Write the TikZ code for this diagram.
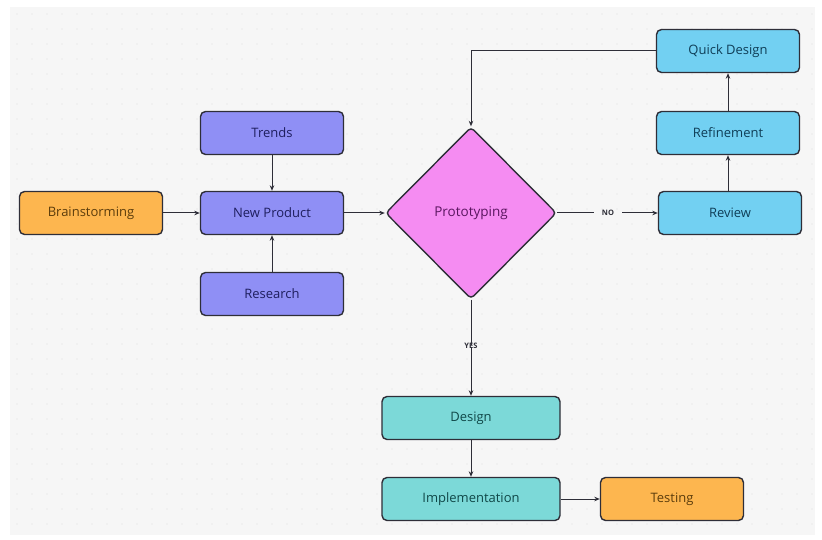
\documentclass[tikz,border=0pt]{standalone}
\usepackage{fontspec}
\setmainfont{Open Sans}
\usetikzlibrary{shapes.geometric,arrows.meta}
\definecolor{canvas}{HTML}{F6F6F6}
\definecolor{dotc}{HTML}{DEDEDE}
\definecolor{edge}{HTML}{2E2E38}
\definecolor{orangef}{HTML}{FDB64F}
\definecolor{oranget}{HTML}{5C3D0C}
\definecolor{purplef}{HTML}{8F8FF5}
\definecolor{purplet}{HTML}{1E1E5E}
\definecolor{pinkf}{HTML}{F58CF2}
\definecolor{pinkt}{HTML}{5A1660}
\definecolor{bluef}{HTML}{72D0F2}
\definecolor{bluet}{HTML}{0F3E57}
\definecolor{tealf}{HTML}{7CD9D8}
\definecolor{tealt}{HTML}{104848}
\tikzset{
  box/.style={draw=edge, line width=1.4pt, rounded corners=5pt, minimum width=143pt,
    minimum height=43pt, inner sep=0pt, font=\fontsize{13}{15}\selectfont},
  widebox/.style={box, minimum width=178pt},
  orangebox/.style={box, fill=orangef, text=oranget},
  purplebox/.style={box, fill=purplef, text=purplet},
  bluebox/.style={box, fill=bluef, text=bluet},
  tealbox/.style={widebox, fill=tealf, text=tealt},
  decision/.style={diamond, draw=edge, line width=1.4pt, fill=pinkf, text=pinkt,
    minimum width=171pt, minimum height=172pt, inner sep=0pt, rounded corners=4pt,
    font=\fontsize{13.5}{15}\selectfont},
  conn/.style={draw=edge, line width=1pt, -{Stealth[length=5.5pt,width=4.5pt]}},
  plainconn/.style={draw=edge, line width=1pt},
  tag/.style={font=\bfseries\fontsize{7.5}{9}\selectfont, text=edge, inner sep=2pt}
}
\begin{document}
\begin{tikzpicture}[x=1pt,y=-1pt]
  \useasboundingbox (0,0) rectangle (822,540);
  % canvas with dot grid
  \fill[canvas] (10,7) rectangle (815,535);
  \foreach \i in {0,...,53} {
    \foreach \j in {0,...,34} {
      \fill[dotc] (17+15*\i,14+15*\j) circle (0.7pt);
    }
  }

  % nodes
  \node[orangebox] (brain) at (91,213) {Brainstorming};
  \node[purplebox] (trends) at (272,133) {Trends};
  \node[purplebox] (newprod) at (272,213) {New Product};
  \node[purplebox] (research) at (272,294) {Research};
  \node[decision] (proto) at (471,213) {Prototyping};
  \node[bluebox] (review) at (730,213) {Review};
  \node[bluebox] (refine) at (728,133) {Refinement};
  \node[bluebox] (quick) at (728,51) {Quick Design};
  \node[tealbox] (design) at (471,418) {Design};
  \node[tealbox] (impl) at (471,499) {Implementation};
  \node[orangebox] (test) at (672,499) {Testing};

  % branch labels
  \node[tag] (no) at (608,213) {NO};
  \node[tag] (yes) at (471,346) {YES};
  \coordinate (qturn) at (471,51);

  % connectors
  \draw[conn] (brain) -- (newprod);
  \draw[conn] (trends) -- (newprod);
  \draw[conn] (research) -- (newprod);
  \draw[conn] (newprod) -- (proto);
  \draw[plainconn] (proto.east) -- ([xshift=-6pt]no.west);
  \draw[conn] ([xshift=6pt]no.east) -- (review.west);
  \draw[conn] (refine.south |- review.north) -- (refine.south);
  \draw[conn] (refine) -- (quick);
  \draw[conn] (quick.west) -- (qturn) -- (proto.north);
  \draw[plainconn] (proto.south) -- ([yshift=-4pt]yes.north);
  \draw[conn] ([yshift=4pt]yes.south) -- (design.north);
  \draw[conn] (design) -- (impl);
  \draw[conn] (impl) -- (test);
\end{tikzpicture}
\end{document}
